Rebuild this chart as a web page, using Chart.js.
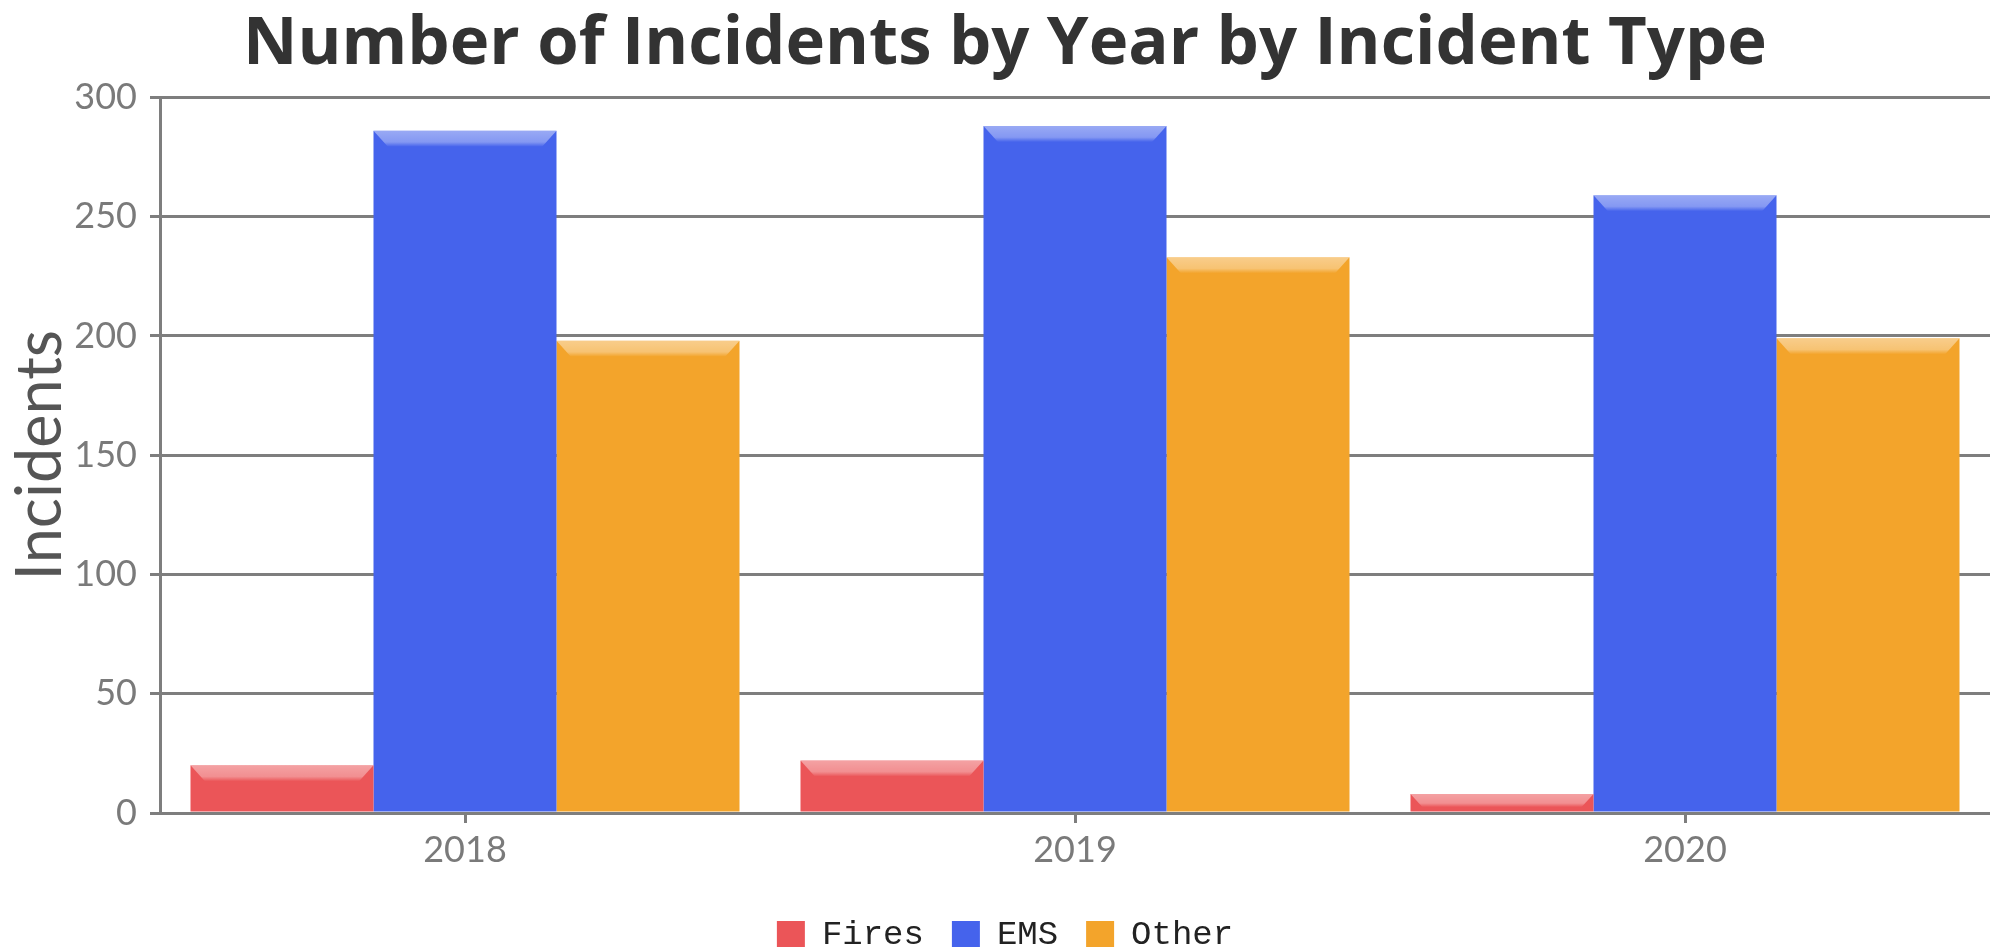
<!DOCTYPE html>
<html>
<head>
<meta charset="utf-8">
<title>Number of Incidents by Year by Incident Type</title>
<script src="https://cdn.jsdelivr.net/npm/chart.js@4/dist/chart.umd.min.js"></script>
<style>
  html, body { margin: 0; padding: 0; background: #ffffff; }
  #wrap { width: 1990px; height: 947px; }
</style>
</head>
<body>
<div id="wrap"><canvas id="incidents" width="1990" height="947"></canvas></div>
<script>
// Yearly incident counts by type
const years = ['2018', '2019', '2020'];
const fires = [20, 22, 8];
const ems = [286, 288, 259];
const other = [198, 233, 199];
const seriesNames = ['Fires', 'EMS', 'Other'];
const seriesColors = ['#EB5558', '#4563EC', '#F3A42B'];

const axisGray = '#7e7e7e';
const labelGray = '#7a7a7a';

// Glossy bevel strip across the top of every bar
const bevelPlugin = {
  id: 'bevel',
  afterDatasetsDraw(chart) {
    const ctx = chart.ctx;
    chart.data.datasets.forEach((ds, i) => {
      const meta = chart.getDatasetMeta(i);
      if (meta.hidden) return;
      meta.data.forEach(bar => {
        const p = bar.getProps(['x', 'y', 'base', 'width'], true);
        const left = p.x - p.width / 2;
        const right = p.x + p.width / 2;
        const h = Math.min(16, (p.base - p.y) * 0.75);
        if (h <= 0) return;
        const inset = h * 0.9;
        const g = ctx.createLinearGradient(0, p.y, 0, p.y + h);
        g.addColorStop(0, 'rgba(255,255,255,0.45)');
        g.addColorStop(0.7, 'rgba(255,255,255,0.34)');
        g.addColorStop(1, 'rgba(255,255,255,0.0)');
        ctx.save();
        ctx.beginPath();
        ctx.moveTo(left, p.y);
        ctx.lineTo(right, p.y);
        ctx.lineTo(right - inset, p.y + h);
        ctx.lineTo(left + inset, p.y + h);
        ctx.closePath();
        ctx.fillStyle = g;
        ctx.fill();
        ctx.restore();
      });
    });
  }
};

const seriesValues = [fires, ems, other];

new Chart(document.getElementById('incidents'), {
  type: 'bar',
  data: {
    labels: years,
    datasets: seriesNames.map((name, i) => ({
      label: name,
      data: seriesValues[i],
      backgroundColor: seriesColors[i],
      borderWidth: 0,
      categoryPercentage: 0.9,
      barPercentage: 1.0
    }))
  },
  options: {
    responsive: false,
    animation: false,
    devicePixelRatio: 1,
    layout: { padding: { left: 20, right: 0, top: 0, bottom: -15 } },
    plugins: {
      title: {
        display: true,
        text: 'Number of Incidents by Year by Incident Type',
        color: '#333333',
        font: { family: '"Open Sans"', size: 67, weight: 'bold', lineHeight: 1.2 },
        padding: { top: 5, bottom: 12 }
      },
      legend: {
        position: 'bottom',
        labels: {
          boxWidth: 28,
          boxHeight: 28,
          padding: 28,
          color: '#222222',
          font: { family: '"Courier New", "Liberation Mono", monospace', size: 34 }
        }
      },
      tooltip: { enabled: false }
    },
    scales: {
      x: {
        grid: {
          drawOnChartArea: false,
          offset: false,
          tickLength: 10,
          tickWidth: 3,
          tickColor: axisGray
        },
        border: { color: axisGray, width: 3 },
        ticks: {
          color: labelGray,
          padding: 6,
          font: { family: 'Lato', size: 36 }
        },
        afterFit(scale) { scale.height = 77; }
      },
      y: {
        min: 0,
        max: 300,
        ticks: {
          stepSize: 50,
          color: labelGray,
          padding: 13,
          font: { family: 'Lato', size: 36 }
        },
        grid: {
          color: axisGray,
          lineWidth: 3,
          tickLength: 10,
          tickWidth: 3,
          tickColor: axisGray
        },
        border: { color: axisGray, width: 3 },
        title: {
          display: true,
          text: 'Incidents',
          color: '#555555',
          font: { family: 'Lato', size: 63, lineHeight: 1.0 },
          padding: { top: -11, bottom: 0 }
        },
        afterFit(scale) { scale.width = 140; }
      }
    }
  },
  plugins: [bevelPlugin]
});
</script>
</body>
</html>
